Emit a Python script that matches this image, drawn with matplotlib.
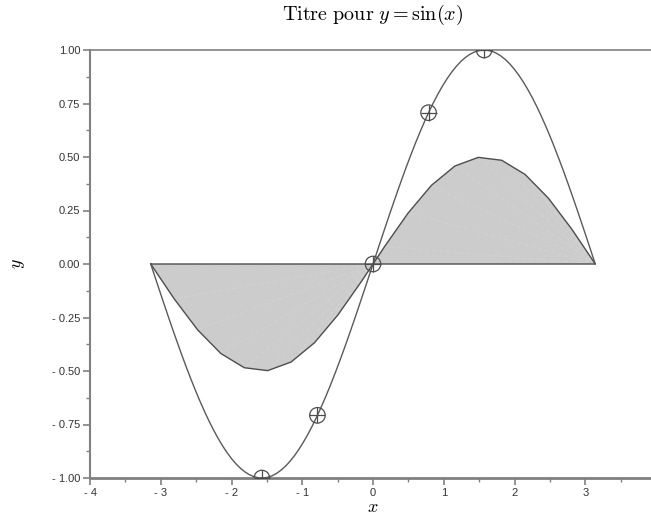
import numpy as np
import matplotlib
matplotlib.use("Agg")
import matplotlib.pyplot as plt
from matplotlib.ticker import MultipleLocator, FixedLocator

plt.rcParams['mathtext.fontset'] = 'cm'

# Data
x_curve = np.linspace(-np.pi, np.pi, 100)
y_curve = np.sin(x_curve)
x_fill = np.linspace(-np.pi, np.pi, 20)
y_fill = 0.5 * np.sin(x_fill)
x_marks = [-np.pi/2, -np.pi/4, 0.0, np.pi/4, np.pi/2]
y_marks = [-1.0, -0.7071, 0.0, 0.7071, 1.0]
xticks = [-4, -3, -2, -1, 0, 1, 2, 3]
yticks = [-1.0, -0.75, -0.5, -0.25, 0.0, 0.25, 0.5, 0.75, 1.0]

W, H = 651, 519
fig = plt.figure(figsize=(W/100, H/100), dpi=100)
left, right, top, bottom = 90, 656, 50, 478
ax = fig.add_axes([left/W, 1-bottom/H, (right-left)/W, (bottom-top)/H])
ax.set_xlim(-4, 4)
ax.set_ylim(-1, 1)

axc = '#808080'
# fill polygon
px = np.concatenate([x_fill, [x_fill[-1], x_fill[0]]])
py = np.concatenate([y_fill, [0.0, 0.0]])
ax.fill(px, py, facecolor='#cccccc', edgecolor='none', zorder=2)
# faint triangulation lines
for xi, yi in zip(x_fill, y_fill):
    cx = 0.0 if xi < 0 else np.pi
    ax.plot([cx, xi], [0, yi], color='#d5d5d5', lw=0.5, ls=(0, (6, 4)), zorder=2.2)
ax.plot(px, py, color='#4d4d4d', lw=1.0, zorder=2.5)
ax.plot(x_curve, y_curve, color='#5a5a5a', lw=1.0, zorder=3)
m1 = ax.scatter(x_marks, y_marks, s=125, marker='o', facecolors='none',
                edgecolors='#4d4d4d', linewidths=0.9, zorder=4)
m2 = ax.scatter(x_marks, y_marks, s=125, marker='+', color='#4d4d4d',
                linewidths=0.9, zorder=4)
m1.set_clip_path(ax.patch)
m2.set_clip_path(ax.patch)

ax.spines['right'].set_visible(False)
ax.spines['top'].set_color(axc)
ax.spines['left'].set_color(axc)
ax.spines['bottom'].set_color(axc)
ax.spines['left'].set_linewidth(1.5)
ax.spines['bottom'].set_linewidth(2.0)
ax.spines['top'].set_linewidth(1.2)

ax.xaxis.set_major_locator(FixedLocator(xticks))
ax.yaxis.set_major_locator(FixedLocator(yticks))
ax.xaxis.set_minor_locator(MultipleLocator(0.5))
ax.yaxis.set_minor_locator(MultipleLocator(0.125))

def fmt(v, nd):
    s = f"{abs(v):.{nd}f}" if nd else f"{int(abs(v))}"
    return ("- " + s) if v < 0 else s

ax.set_xticklabels([fmt(v, 0) for v in xticks])
ax.set_yticklabels([fmt(v, 2) for v in yticks])
ax.tick_params(axis='both', which='major', direction='out', length=5, width=1.2,
               color=axc, labelsize=8, labelcolor='#333333', pad=2)
ax.tick_params(axis='both', which='minor', direction='out', length=3, width=1.0, color=axc)
for lab in ax.get_xticklabels() + ax.get_yticklabels():
    lab.set_family('Liberation Sans')

ax.set_xlabel(r'$x$', fontsize=13, labelpad=0)
ax.set_ylabel(r'$y$', fontsize=13, labelpad=18)
fig.text((left+right)/2/W, 1-15/H, r'$\mathrm{Titre\ pour\ }y=\sin(x)$',
         ha='center', va='center', fontsize=14.5)

fig.savefig('out.png', dpi=100)
